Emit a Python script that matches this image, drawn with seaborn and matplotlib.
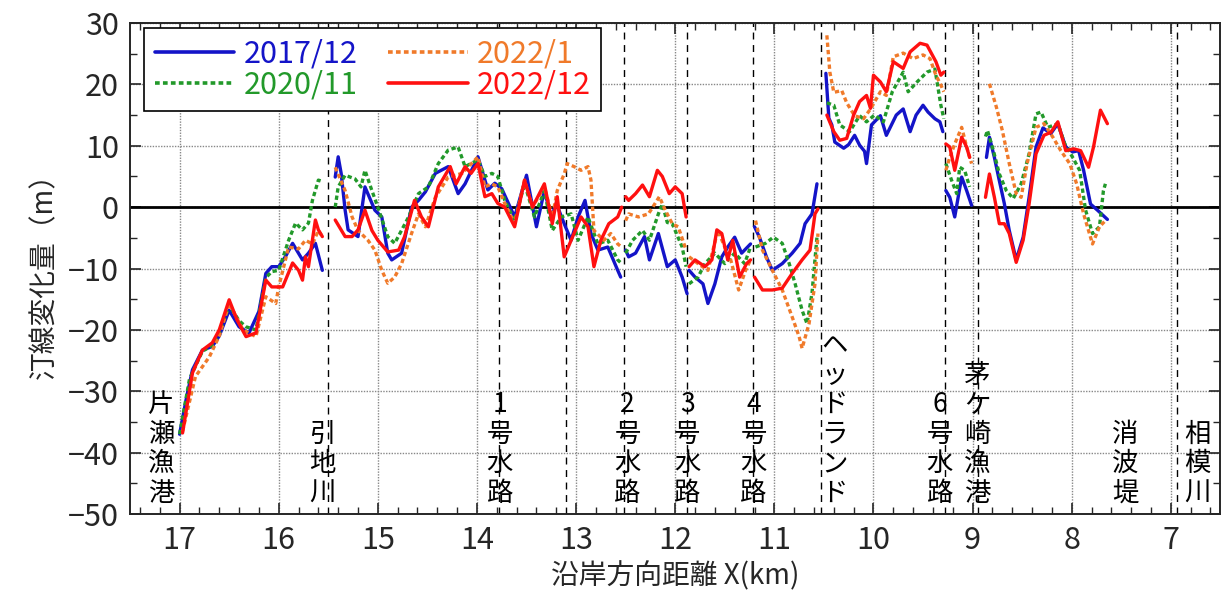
import numpy as np
import pandas as pd
import matplotlib
matplotlib.use("Agg")
import matplotlib.pyplot as plt
import seaborn as sns
from matplotlib.ticker import MultipleLocator

nan = np.nan

# 2017/12
x_2017 = [17.0, 16.93, 16.87, 16.77, 16.67, 16.6, 16.5, 16.4, 16.3, 16.2, 16.13, 16.07, 16.0, 15.93, 15.86, 15.76, 15.7, 15.63, 15.56, nan,
          15.43, 15.4, 15.37, 15.33, 15.3, 15.2, 15.13, 15.03, 14.96, 14.9, 14.86, 14.76, 14.66, 14.59, 14.52, 14.42, 14.29, 14.19, 14.12, 13.99, 13.89, 13.82,
          13.75, 13.62, 13.5, 13.4, 13.32, 13.25, 13.2, 13.12, 13.05, 12.98, 12.91, 12.85, 12.78, 12.68, 12.58, 12.55, nan,
          12.5, 12.47, 12.4, 12.31, 12.26, 12.17, 12.08, 12.0, 11.93, 11.88, nan,
          11.86, 11.8, 11.72, 11.67, 11.6, 11.53, 11.47, 11.4, 11.33, 11.27, 11.24, nan,
          11.2, 11.15, 11.08, 11.02, 10.92, 10.82, 10.74, 10.69, 10.62, 10.57, nan,
          10.48, 10.45, 10.42, 10.39, 10.3, 10.25, 10.19, 10.14, 10.09, 10.07, 10.02, 9.93, 9.87, 9.77, 9.7, 9.63, 9.57, 9.5, 9.45, 9.38, 9.33, 9.3, nan,
          9.27, 9.23, 9.18, 9.11, 9.06, 9.01, nan,
          8.86, 8.83, 8.78, 8.73, 8.68, 8.63, 8.56, 8.49, 8.43, 8.36, 8.29, 8.21, 8.14, 8.06, 7.99, 7.93, 7.88, 7.81, 7.74, 7.68, 7.64]
y_2017 = [-37, -31, -26.5, -23.3, -22.7, -21, -16.8, -19.5, -20.5, -17, -10.8, -9.7, -9.7, -8, -5.9, -8.6, -7.5, -5.9, -10.3, nan,
          4.9, 8.2, 5.5, -0.5, -3.7, -4.8, 3.3, -0.5, -1.6, -7.5, -8.6, -7.5, 0, 1.1, 2.5, 5.5, 6.6, 2.2, 3.8, 8.2, 2.8, 3.9,
          3, -1.6, 5.2, -3.2, 2.7, -1.6, 0.6, -2.7, -5.4, -1.6, 1.1, -4.3, -7, -6.5, -10.3, -11.4, nan,
          -7.0, -8.1, -7.5, -4.8, -8.6, -4.3, -9.7, -8.6, -11.4, -14.1, nan,
          -10.3, -11.4, -12.5, -15.7, -12.5, -8.1, -6.5, -4.9, -7.5, -6.5, -6, nan,
          -3.2, -4.9, -8.1, -10.3, -9.2, -7.5, -5.9, -2.7, -1.1, 3.8, nan,
          21.8, 14.5, 13.4, 10.6, 9.6, 10.2, 11.7, 10.1, 9.1, 7.1, 13.4, 14.9, 11.7, 15.0, 16.0, 12.3, 15.0, 16.6, 15.5, 14.4, 13.9, 12.3, nan,
          2.7, 1.6, -1.6, 4.9, 2.7, 0.3, nan,
          8.1, 11.4, 8.1, 4.3, 0.6, -3.8, -8.6, -4.9, 1.6, 9.8, 12.9, 12.0, 13.6, 9.8, 9.0, 9.2, 6.0, 0.5, -0.5, -1.4, -2.0]

# 2020/11
x_2020 = [17.0, 16.9, 16.77, 16.67, 16.6, 16.5, 16.4, 16.33, 16.23, 16.13, 16.07, 16.0, 15.9, 15.83, 15.76, 15.7, 15.66, 15.6, 15.56, nan,
          15.43, 15.4, 15.33, 15.23, 15.17, 15.13, 15.06, 15.0, 14.9, 14.83, 14.69, 14.59, 14.49, 14.39, 14.29, 14.19, 14.12, 13.99, 13.92, 13.85, 13.79,
          13.72, 13.62, 13.52, 13.42, 13.32, 13.24, 13.15, 13.05, 12.98, 12.88, 12.78, 12.68, 12.58, 12.54, nan,
          12.5, 12.43, 12.33, 12.26, 12.17, 12.13, 12.08, 12.03, 11.93, 11.89, nan,
          11.86, 11.77, 11.7, 11.6, 11.5, 11.4, 11.3, 11.24, nan,
          11.19, 11.09, 11.01, 10.92, 10.85, 10.79, 10.72, 10.67, 10.62, 10.57, nan,
          10.47, 10.4, 10.34, 10.24, 10.14, 10.07, 9.99, 9.9, 9.81, 9.7, 9.65, 9.56, 9.46, 9.38, 9.32, 9.29, nan,
          9.27, 9.21, 9.16, 9.13, 9.08, 9.03, nan,
          8.87, 8.85, 8.79, 8.73, 8.66, 8.59, 8.51, 8.43, 8.36, 8.31, 8.24, 8.14, 8.07, 7.99, 7.92, 7.86, 7.79, 7.72, 7.68, 7.66]
y_2020 = [-37, -28, -23.5, -22.5, -20.5, -16, -18.5, -19.5, -20, -11.5, -10.5, -10.3, -5.4, -2.6, -3.7, -2.6, 1.1, 4.4, 4.2, nan,
          0, 3.3, 5.2, 4.6, 3.3, 6.0, 2.7, 0, -4.8, -5.9, -1.6, 2.2, 3.3, 7.1, 9.3, 9.8, 6.6, 7.7, 5.0, 5.5, 5,
          1.1, -2.2, 3.8, -1.6, 2.7, -3.8, -1.6, -1.1, -5.4, -1.6, -6, -5.4, -8.6, -9.2, nan,
          -7.5, -5.4, -3.8, -5.4, -1.1, 0.5, -2.5, -2.7, -6.5, -9.7, nan,
          -12.5, -11.4, -9.2, -7.5, -9.2, -7.5, -9.2, -6.5, nan,
          -6.5, -5.9, -4.9, -5.9, -9.2, -12.5, -16.8, -19, -14, -4.9, nan,
          17, 16.6, 13.4, 12.3, 14.9, 13.9, 15.0, 13.9, 18.8, 22.0, 18.8, 20.4, 22.0, 22.5, 16.6, 14.4, nan,
          7.1, 4.3, 2.2, 6.5, 6, 3.3, nan,
          11.5, 12.5, 9.2, 5.4, 2.7, 1.4, 3.8, 8.7, 15.2, 15.5, 13, 13.6, 10.3, 8.1, 6.0, -0.5, -4.3, -3.2, 2.7, 3.8]

# 2022/1
x_2022a = [16.97, 16.84, 16.7, 16.6, 16.5, 16.36, 16.23, 16.13, 16.03, 16.0, 15.9, 15.8, 15.73, 15.66, 15.6, 15.56, nan,
           15.43, 15.33, 15.26, 15.2, 15.1, 15.03, 14.96, 14.9, 14.83, 14.76, 14.66, 14.59, 14.52, 14.42, 14.29, 14.15, 13.99, 13.92, 13.85, 13.79,
           13.72, 13.62, 13.52, 13.44, 13.32, 13.24, 13.19, 13.12, 13.09, 13.02, 12.95, 12.88, 12.85, 12.82, 12.72, 12.65, 12.58, 12.54, nan,
           12.5, 12.47, 12.37, 12.27, 12.16, 12.1, 12.03, 11.97, 11.89, nan,
           11.86, 11.77, 11.67, 11.57, 11.5, 11.44, 11.36, 11.29, 11.24, nan,
           11.19, 11.12, 11.02, 10.92, 10.82, 10.75, 10.72, 10.65, 10.59, 10.56, nan,
           10.47, 10.44, 10.4, 10.32, 10.27, 10.19, 10.1, 10.03, 9.93, 9.87, 9.8, 9.7, 9.6, 9.5, 9.43, 9.37, 9.32, 9.29, nan,
           9.27, 9.23, 9.18, 9.11, 9.06, 9.01, nan,
           8.83, 8.76, 8.7, 8.63, 8.56, 8.51, 8.45, 8.36, 8.28, 8.19, 8.11, 8.02, 7.95, 7.88, 7.79, 7.72, 7.66]
y_2022a = [-36.5, -27.6, -24.4, -21, -15.7, -20, -21.1, -14.6, -15.7, -13, -6.5, -6.8, -5.4, -6, -3.8, -4.8, nan,
           6.5, 2.7, -1.6, -3.8, -5.4, -7.0, -10.3, -12.4, -11.4, -9.2, -4.3, -1.1, -3.2, 1.6, 4.9, 5.5, 8.2, 3.3, 3.8, 3.3,
           0.6, -2.7, 4.4, 0, 3.3, -1.6, 2.7, 5.4, 7.1, 6.6, 6.0, 6.6, 4.4, -3.8, -5.4, -4.3, -6, -6.5, nan,
           -2.2, -1.1, -1.6, -1.1, 1.7, -0.5, -2.7, -3.2, -7, nan,
           -8.1, -9.2, -10.3, -3.8, -6.5, -8.6, -13.5, -10.3, -8.6, nan,
           -2.2, -7.0, -10.3, -13.5, -17.9, -21.1, -23, -19, -12.5, -4.3, nan,
           28, 22, 18.7, 19, 17, 14.9, 14.4, 16, 18.8, 18.2, 24.5, 25.1, 24.2, 24.8, 24.2, 21.5, 19.9, 18.8, nan,
           6, 8.1, 10.3, 13, 9.8, 7.1, nan,
           20.1, 16.3, 12.5, 7.1, 2.2, 1.6, 7.1, 13, 13.6, 11.4, 9.2, 7.1, 3.8, -1.1, -6, -3.2, -2.2]

# 2022/12
x_2022b = [16.97, 16.87, 16.77, 16.67, 16.6, 16.5, 16.42, 16.33, 16.23, 16.13, 16.07, 15.96, 15.86, 15.8, 15.76, 15.73, 15.7, 15.63, 15.6, 15.56, nan,
           15.43, 15.33, 15.26, 15.2, 15.13, 15.06, 15.0, 14.9, 14.79, 14.73, 14.63, 14.56, 14.49, 14.39, 14.27, 14.21, 14.12, 14.06, 13.99, 13.92, 13.85, 13.79,
           13.72, 13.62, 13.52, 13.44, 13.32, 13.24, 13.19, 13.12, 13.05, 12.95, 12.88, 12.82, 12.75, 12.67, 12.58, 12.54, nan,
           12.5, 12.47, 12.4, 12.33, 12.26, 12.18, 12.13, 12.06, 12.0, 11.93, 11.89, nan,
           11.86, 11.8, 11.7, 11.63, 11.58, 11.53, 11.47, 11.42, 11.35, 11.28, 11.24, nan,
           11.2, 11.12, 11.02, 10.92, 10.82, 10.72, 10.64, 10.59, 10.56, nan,
           10.47, 10.4, 10.34, 10.27, 10.2, 10.14, 10.07, 10.03, 10.0, 9.93, 9.87, 9.8, 9.7, 9.63, 9.53, 9.46, 9.37, 9.32, 9.29, nan,
           9.27, 9.23, 9.18, 9.11, 9.06, 9.03, nan,
           8.87, 8.83, 8.78, 8.73, 8.68, 8.63, 8.56, 8.49, 8.43, 8.36, 8.28, 8.21, 8.14, 8.06, 7.98, 7.91, 7.83, 7.78, 7.71, 7.64]
y_2022b = [-36.8, -27, -23.3, -22.1, -20, -15.1, -18.4, -21.1, -20.5, -11.9, -13, -13, -9.1, -10.3, -11.9, -8.1, -9.7, -2.1, -3.7, -4.8, nan,
           -2.1, -4.8, -4.8, -3.7, -0.5, -3.8, -5.4, -7.3, -7.0, -4.8, 1.1, -1.6, -3.2, 3.3, 6.6, 3.8, 6.6, 5.5, 7.1, 1.7, 2.2, 0.6,
           0, -3.2, 4.4, 0, 3.8, -2.7, 1.7, -8.1, -5.4, -1.6, -3.2, -9.7, -5.4, -2.7, -1.6, 0, nan,
           1.7, 1.1, 2.2, 3.6, 1.7, 6.0, 5.0, 2.2, 3.3, 2.2, -1.6, nan,
           -9.7, -8.6, -9.7, -8.6, -3.7, -4.3, -8.6, -5.4, -11.4, -9.2, -8.6, nan,
           -11.4, -13.5, -13.5, -13.2, -10.8, -8.6, -7.0, -1.1, -0.3, nan,
           15.0, 12.3, 10.9, 11.2, 15, 17.2, 18.2, 16.1, 21.5, 20.4, 18.8, 23.7, 22.6, 25.3, 26.7, 26.4, 23.7, 21.5, 22, nan,
           10.3, 9.8, 6, 11.4, 9.8, 8.1, nan,
           1.6, 5.4, 1.6, -2.7, -2.7, -4.3, -9.0, -5.4, 0.5, 8.7, 11.7, 12.2, 13.9, 9.2, 9.5, 9.2, 6.5, 9.8, 15.8, 13.6]

series_names = ["2017/12", "2020/11", "2022/1", "2022/12"]
series_colors = ["#1414c8", "#22992a", "#f07a2a", "#ff1010"]

# structures (dashed lines) and their labels
struct_x = [15.5, 13.78, 13.1, 12.52, 11.88, 11.22, 10.53, 9.28, 8.95, 6.94]
label_names = ["片瀬漁港", "引地川", "1号水路", "2号水路", "3号水路", "4号水路", "ヘッドランド", "6号水路", "茅ケ崎漁港", "消波堤", "相模川"]
label_x = [17.19, 15.56, 13.77, 12.48, 11.88, 11.21, 10.39, 9.33, 8.95, 7.46, 6.73]

frames = []
for name, xs, ys in zip(series_names, [x_2017, x_2020, x_2022a, x_2022b], [y_2017, y_2020, y_2022a, y_2022b]):
    d = pd.DataFrame({"x": xs, "y": ys})
    d["seg"] = d["x"].isna().cumsum()
    d["series"] = name
    frames.append(d.dropna())
df = pd.concat(frames, ignore_index=True)

sns.set_style("ticks")
plt.rcParams["font.family"] = ["Noto Sans CJK JP", "DejaVu Sans"]

fig = plt.figure(figsize=(12.21, 5.98), dpi=100)
ax = fig.add_axes([0.1065, 0.1405, 0.8930, 0.8210])

styles = {"2017/12": "-", "2020/11": (0, (1.3, 0.9)), "2022/1": (0, (1.3, 0.9)), "2022/12": "-"}
for name, color in zip(series_names, series_colors):
    sub = df[df["series"] == name]
    sns.lineplot(data=sub, x="x", y="y", units="seg", estimator=None, sort=False,
                 color=color, lw=2.4, linestyle=styles[name], ax=ax, legend=False)

# legend proxies
handles = [plt.Line2D([], [], color=c, lw=2.6, linestyle=styles[n]) for n, c in zip(series_names, series_colors)]
leg = ax.legend(handles, series_names,
                ncol=2, loc="upper left", bbox_to_anchor=(0.013, 0.99), frameon=True, fancybox=False,
                edgecolor="black", framealpha=1, handlelength=2.6, handletextpad=0.3, columnspacing=1.0,
                labelspacing=0.0, borderpad=0.35, borderaxespad=0.0,
                prop={"family": ["Noto Sans CJK JP"], "size": 22})
leg.get_frame().set_linewidth(1.2)
for t, c in zip(leg.get_texts(), series_colors):
    t.set_color(c)
leg.set_zorder(10)

for xv in struct_x:
    ax.axvline(xv, color="black", lw=1.0, linestyle=(0, (5, 4)), zorder=1)
ax.axhline(0, color="black", lw=2.0, zorder=1)

for name, xv in zip(label_names, label_x):
    ax.text(xv, -48.8, "\n".join(name), ha="center", va="bottom", fontsize=19,
            linespacing=1.12, color="black", zorder=5)

ax.set_xlim(17.5, 6.5)
ax.set_ylim(-50, 30)
ax.xaxis.set_major_locator(MultipleLocator(1))
ax.xaxis.set_minor_locator(MultipleLocator(0.2))
ax.yaxis.set_major_locator(MultipleLocator(10))
ax.yaxis.set_minor_locator(MultipleLocator(5))
ax.grid(True, which="major", color="#888888", linestyle=(0, (1, 1)), lw=1.0)
ax.tick_params(which="both", direction="in", top=True, right=True, labelsize=22)
ax.tick_params(which="major", length=8, width=1.2, pad=8)
ax.tick_params(which="minor", length=5, width=1.0)
for s in ax.spines.values():
    s.set_linewidth(1.4)

ax.set_xlabel("沿岸方向距離 X(km)", fontsize=20, labelpad=4)
ax.set_ylabel("汀線変化量（m）", fontsize=20, labelpad=6)

fig.savefig("out.png", dpi=100)
